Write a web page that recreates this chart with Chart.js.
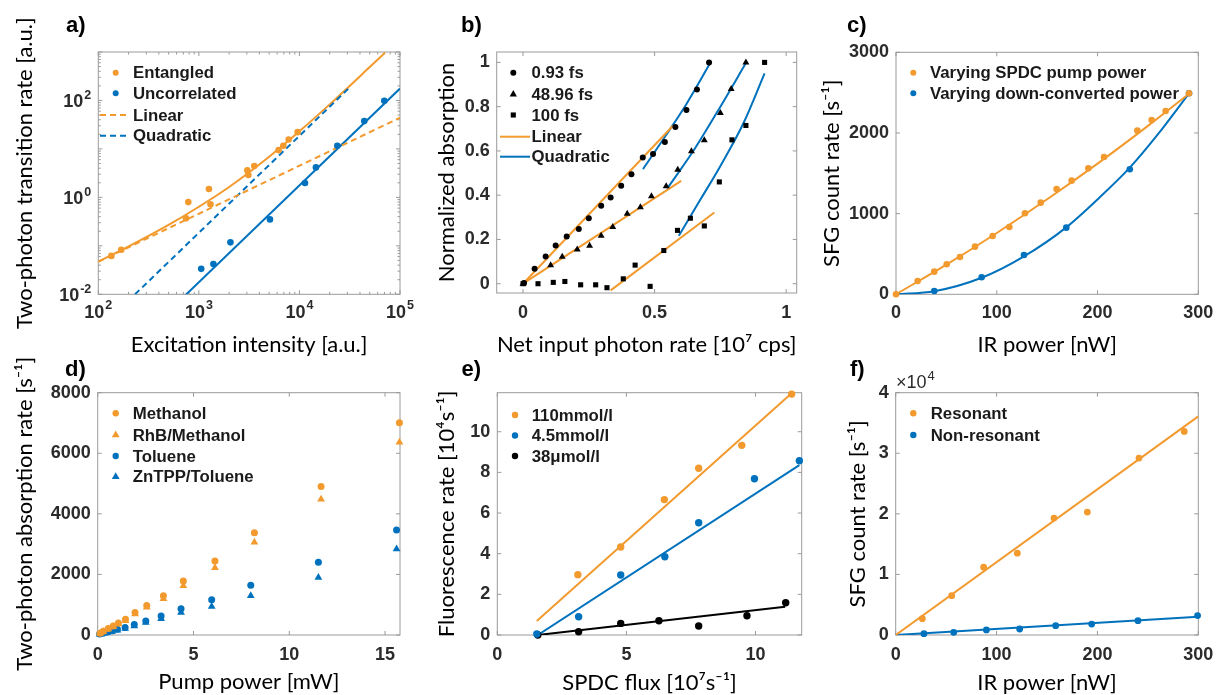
<!DOCTYPE html>
<html><head><meta charset="utf-8">
<script src="https://cdn.jsdelivr.net/npm/chart.js@4.4.1/dist/chart.umd.min.js"></script>
<style>
html,body{margin:0;padding:0;background:#fff;width:1217px;height:695px;overflow:hidden}
canvas{position:absolute;left:0;top:0}
</style></head><body>
<canvas id="pa" width="1217" height="695"></canvas>
<canvas id="pb" width="1217" height="695"></canvas>
<canvas id="pc" width="1217" height="695"></canvas>
<canvas id="pd" width="1217" height="695"></canvas>
<canvas id="pe" width="1217" height="695"></canvas>
<canvas id="pf" width="1217" height="695"></canvas>
<script>
const ORANGE = '#F29A2E', BLUE = '#0072BD', BLACK = '#000000';

// ---------- Panel a (log-log) ----------
const aEntX = [135, 169, 745, 785, 1259, 1305, 3034, 3105, 3558, 6210, 6913, 7813, 9594];
const aEntY = [0.062, 0.083, 0.37, 0.80, 1.49, 0.72, 3.6, 2.89, 4.43, 9.46, 11.6, 15.7, 22.2];
const aUncX = [1055, 1395, 2060, 5093, 11350, 14590, 23800, 44150, 69800];
const aUncY = [0.0335, 0.042, 0.118, 0.351, 1.98, 4.16, 11.6, 37.5, 98.4];
const aEntFitX = [100, 200, 500, 1000, 2000, 5000, 10000, 20000, 50000, 71000];
const aEntFitY = [0.047, 0.097, 0.27, 0.64, 1.64, 6.9, 23.1, 83, 488, 970];
const aUncFitX = [716, 100000];
const aUncFitY = [0.0091, 176];
const aLinX = [100, 100000];
const aLinY = [0.047, 44];
const aQuadX = [232, 31600];
const aQuadY = [0.01, 186];
const aXTicks = [100, 1000, 10000, 100000];
const aXTickExp = ['2', '3', '4', '5'];
const aYTicks = [0.01, 0.1, 1, 10, 100, 1000];
const aYTickExp = ['-2', '', '0', '', '2', ''];

// ---------- Panel b ----------
const b093X = [0.004, 0.044, 0.086, 0.124, 0.166, 0.212, 0.250, 0.297, 0.333, 0.373, 0.412, 0.455, 0.494, 0.539, 0.579, 0.621, 0.661, 0.707];
const b093Y = [0.003, 0.068, 0.123, 0.173, 0.213, 0.247, 0.296, 0.352, 0.390, 0.443, 0.495, 0.570, 0.586, 0.640, 0.708, 0.785, 0.877, 1.0];
const b4896X = [0, 0.105, 0.149, 0.206, 0.253, 0.297, 0.341, 0.396, 0.446, 0.488, 0.544, 0.588, 0.640, 0.689, 0.750, 0.791, 0.847];
const b4896Y = [0, 0.083, 0.122, 0.154, 0.172, 0.217, 0.256, 0.316, 0.345, 0.395, 0.440, 0.515, 0.598, 0.648, 0.771, 0.880, 1.0];
const b100X = [0, 0.057, 0.115, 0.159, 0.219, 0.276, 0.319, 0.381, 0.426, 0.483, 0.535, 0.587, 0.636, 0.689, 0.746, 0.794, 0.847, 0.918];
const b100Y = [0, 0.0, 0.006, 0.010, -0.005, -0.005, -0.018, 0.022, 0.084, -0.012, 0.150, 0.241, 0.296, 0.261, 0.460, 0.650, 0.715, 1.0];
const bLin093X = [0, 0.570], bLin093Y = [0, 0.714];
const bLin4896X = [0, 0.601], bLin4896Y = [0, 0.465];
const bLin100X = [0.333, 0.727], bLin100Y = [-0.03, 0.322];
const bQuad093X = [0.456, 0.54, 0.62, 0.708], bQuad093Y = [0.518, 0.665, 0.81, 0.99];
const bQuad4896X = [0.548, 0.65, 0.75, 0.847], bQuad4896Y = [0.43, 0.605, 0.80, 0.997];
const bQuad100X = [0.592, 0.674, 0.749, 0.838, 0.918], bQuad100Y = [0.217, 0.38, 0.53, 0.726, 0.95];
const bXTicks = [0, 0.5, 1];
const bYTicks = [0, 0.2, 0.4, 0.6, 0.8, 1];

// ---------- Panel c ----------
const cPumpX = [0, 21.5, 38, 50.3, 63.5, 78.4, 95.9, 112.5, 128, 143.6, 159.4, 174.3, 190.9, 206.4, 239.5, 253.7, 267.6, 290.8];
const cPumpY = [0, 165, 281, 372, 463, 591, 723, 835, 1004, 1136, 1306, 1409, 1562, 1702, 2029, 2161, 2273, 2492];
const cDownX = [38, 85, 127, 169, 232, 290.8];
const cDownY = [41, 211, 488, 826, 1550, 2492];
const cPumpFitX = [0, 50, 100, 150, 200, 250, 290.8];
const cPumpFitY = [0, 367, 760, 1178, 1620, 2088, 2487];
const cDownFitX = [0, 38, 85, 127, 169, 202, 232, 260, 290.8];
const cDownFitY = [0, 38, 205, 470, 830, 1200, 1570, 1985, 2492];
const cXTicks = [0, 100, 200, 300];
const cYTicks = [0, 1000, 2000, 3000];

// ---------- Panel d ----------
const dMethX = [0.12, 0.29, 0.55, 0.81, 1.08, 1.45, 1.95, 2.56, 3.43, 4.47, 6.12, 8.18, 11.66, 15.75];
const dMethY = [55, 125, 215, 300, 395, 520, 740, 975, 1300, 1780, 2440, 3380, 4900, 7010];
const dRhBY = [50, 110, 195, 275, 360, 470, 690, 920, 1200, 1630, 2220, 3060, 4480, 6360];
const dTolX = [0.1, 0.27, 0.5, 0.76, 1.03, 1.43, 1.91, 2.51, 3.31, 4.35, 5.95, 7.99, 11.52, 15.6];
const dTolY = [30, 60, 100, 140, 187, 245, 350, 460, 625, 870, 1160, 1640, 2400, 3470];
const dZnY = [25, 50, 85, 120, 160, 215, 300, 410, 535, 740, 940, 1300, 1900, 2840];
const dXTicks = [0, 5, 10, 15];
const dYTicks = [0, 2000, 4000, 6000, 8000];

// ---------- Panel e ----------
const e110X = [3.12, 4.78, 6.47, 7.80, 9.47, 11.40];
const e110Y = [2.97, 4.33, 6.66, 8.20, 9.33, 11.85];
const e45X = [1.53, 3.15, 4.78, 6.49, 7.80, 9.96, 11.70];
const e45Y = [0.05, 0.90, 2.95, 3.85, 5.52, 7.69, 8.57];
const e38X = [1.57, 3.15, 4.78, 6.26, 7.80, 9.67, 11.17];
const e38Y = [0, 0.16, 0.57, 0.70, 0.44, 0.95, 1.59];
const e110FitX = [1.53, 11.40], e110FitY = [0.69, 11.89];
const e45FitX = [1.57, 11.70], e45FitY = [0, 8.36];
const e38FitX = [1.57, 11.15], e38FitY = [0, 1.39];
const eXTicks = [0, 5, 10];
const eYTicks = [0, 2, 4, 6, 8, 10];

// ---------- Panel f (x10^4) ----------
const fResX = [26.4, 55.5, 87.2, 120.6, 156.9, 190, 241.2, 286.1];
const fResY = [0.27, 0.65, 1.12, 1.35, 1.93, 2.03, 2.92, 3.36];
const fNonX = [28, 57.5, 89.9, 122.9, 158.6, 194.3, 240.2, 299.3];
const fNonY = [0.022, 0.044, 0.083, 0.099, 0.154, 0.18, 0.237, 0.32];
const fResFitX = [0, 300], fResFitY = [0, 3.61];
const fNonFitX = [0, 300], fNonFitY = [0, 0.30];
const fXTicks = [0, 100, 200, 300];
const fYTicks = [0, 1, 2, 3, 4];

// ---------- helpers ----------
const W = 1217, H = 695;
const SANS = '"Liberation Sans", Arial, "DejaVu Sans", sans-serif';
const TICK_FONT = {family: SANS, size: 18, weight: 'bold'};
const TITLE_FONT = {family: 'Lato, "Open Sans", "DejaVu Sans", sans-serif', size: 22, weight: 'normal'};
const TICK_COLOR = '#2b2b2b';
const LEG_FONT = 'bold 16.8px ' + SANS;

function pts(xs, ys) { return xs.map((x, i) => ({x: x, y: ys[i]})); }
function scat(label, xs, ys, color, style, r) {
  return {label, data: pts(xs, ys), showLine: false, pointStyle: style || 'circle', pointRadius: r,
    backgroundColor: color, borderColor: color, borderWidth: 0, clip: false};
}
function line(label, xs, ys, color, dash, smooth) {
  const d = {label, data: pts(xs, ys), showLine: true, pointRadius: 0, borderColor: color,
    backgroundColor: color, borderWidth: 2, borderDash: dash || [], fill: false};
  if (smooth) d.cubicInterpolationMode = 'monotone';
  return d;
}
function drawMarker(ctx, style, x, y, r, color) {
  ctx.fillStyle = color; ctx.beginPath();
  if (style === 'triangle') {
    const t = r * 1.4;
    ctx.moveTo(x, y - t); ctx.lineTo(x + t * 0.866, y + t * 0.5); ctx.lineTo(x - t * 0.866, y + t * 0.5); ctx.closePath();
  } else if (style === 'rect') {
    const s = r * 0.85; ctx.rect(x - s, y - s, 2 * s, 2 * s);
  } else { ctx.arc(x, y, r, 0, Math.PI * 2); }
  ctx.fill();
}
// base text with raised exponent; align: 'center' | 'right' | 'left'
function drawPow(ctx, base, exp, x, y, align, baseFont, expFont, color) {
  ctx.save();
  ctx.fillStyle = color; ctx.textBaseline = 'middle'; ctx.textAlign = 'left';
  ctx.font = baseFont; const wb = ctx.measureText(base).width;
  ctx.font = expFont; const we = ctx.measureText(exp).width;
  const tot = wb + we + 1;
  let x0 = align === 'center' ? x - tot / 2 : (align === 'right' ? x - tot : x);
  ctx.font = baseFont; ctx.fillText(base, x0, y);
  ctx.font = expFont; ctx.fillText(exp, x0 + wb + 1, y - 7);
  ctx.restore();
}

function panel(id, c) {
  const titleLine = TITLE_FONT.size * 1.2;
  const L = c.yTitleX - titleLine / 2;
  const yW = c.left - L;
  const scaleBottom = c.xTitleY + titleLine / 2;
  const xH = scaleBottom - c.bottom;
  const padB = H - scaleBottom;
  const xPad = c.xLabelY - c.bottom - TICK_FONT.size * 1.2 / 2;

  const boxPlugin = {
    id: 'mbox' + id,
    beforeDatasetsDraw(chart) {
      const ctx = chart.ctx, a = chart.chartArea, xs = chart.scales.x, ys = chart.scales.y;
      ctx.save();
      ctx.strokeStyle = '#9a9a9a'; ctx.lineWidth = 1;
      ctx.strokeRect(a.left, a.top, a.right - a.left, a.bottom - a.top);
      const tk = (px, horiz, len) => {
        ctx.beginPath();
        if (horiz) { ctx.moveTo(px, a.bottom); ctx.lineTo(px, a.bottom - len); ctx.moveTo(px, a.top); ctx.lineTo(px, a.top + len); }
        else { ctx.moveTo(a.left, px); ctx.lineTo(a.left + len, px); ctx.moveTo(a.right, px); ctx.lineTo(a.right - len, px); }
        ctx.stroke();
      };
      c.xTicks.forEach(v => tk(xs.getPixelForValue(v), true, 4));
      c.yTicks.forEach(v => tk(ys.getPixelForValue(v), false, 4));
      (c.xMinor || []).forEach(v => tk(xs.getPixelForValue(v), true, 2.5));
      (c.yMinor || []).forEach(v => tk(ys.getPixelForValue(v), false, 2.5));
      ctx.restore();
    },
    afterDraw(chart) {
      const ctx = chart.ctx, a = chart.chartArea;
      ctx.save();
      // power-of-ten tick labels (log axes)
      const bf = 'bold 18px ' + SANS, ef = 'bold 12.5px ' + SANS;
      if (c.xTickExp) c.xTicks.forEach((v, i) => {
        if (c.xTickExp[i] !== '') drawPow(ctx, '10', c.xTickExp[i], chart.scales.x.getPixelForValue(v), c.xLabelY, 'center', bf, ef, TICK_COLOR);
      });
      if (c.yTickExp) c.yTicks.forEach((v, i) => {
        if (c.yTickExp[i] !== '') drawPow(ctx, '10', c.yTickExp[i], a.left - 7, chart.scales.y.getPixelForValue(v) + 2, 'right', bf, ef, TICK_COLOR);
      });
      // legend
      const lg = c.legend;
      ctx.font = LEG_FONT; ctx.textBaseline = 'middle'; ctx.textAlign = 'left';
      lg.items.forEach((idx, i) => {
        const ds = chart.data.datasets[idx], y = lg.rows[i];
        if (ds.showLine) {
          ctx.strokeStyle = ds.borderColor; ctx.lineWidth = 2; ctx.setLineDash(ds.borderDash || []);
          ctx.beginPath(); ctx.moveTo(lg.lineX[0], y); ctx.lineTo(lg.lineX[1], y); ctx.stroke(); ctx.setLineDash([]);
        } else {
          drawMarker(ctx, ds.pointStyle, lg.markerX, y, lg.r, ds.backgroundColor);
        }
        ctx.fillStyle = '#1a1a1a';
        ctx.font = LEG_FONT; ctx.textBaseline = 'middle'; ctx.textAlign = 'left';
        ctx.fillText(ds.label, lg.textX, y + 1);
      });
      // extra texts (panel label etc.)
      c.texts.forEach(t => {
        if (t.exp) { drawPow(ctx, t.text, t.exp, t.x, t.y, 'left', t.font, t.expFont, t.color || '#000'); return; }
        ctx.font = t.font; ctx.fillStyle = t.color || '#000'; ctx.textAlign = 'left'; ctx.textBaseline = 'middle';
        ctx.fillText(t.text, t.x, t.y);
      });
      ctx.restore();
    }
  };

  const tickCb = (hide) => function (v) {
    if (hide) return '';
    return String(Math.round(v * 1000) / 1000);
  };

  return new Chart(document.getElementById(id), {
    type: 'scatter',
    data: {datasets: c.datasets},
    options: {
      responsive: false, animation: false, devicePixelRatio: 1,
      layout: {padding: {left: L, right: W - c.right, top: c.top, bottom: padB}},
      plugins: {legend: {display: false}, tooltip: {enabled: false}},
      scales: {
        x: {
          type: c.xType || 'linear', position: 'bottom', min: c.xMin, max: c.xMax,
          afterBuildTicks: s => { s.ticks = c.xTicks.map(v => ({value: v})); },
          afterFit: s => { s.height = xH; s.paddingLeft = 0; s.paddingRight = 0; },
          grid: {display: false, drawTicks: false}, border: {display: false},
          ticks: {autoSkip: false, maxRotation: 0, minRotation: 0, padding: xPad, font: TICK_FONT, color: TICK_COLOR,
            callback: tickCb(!!c.xTickExp)},
          title: {display: true, text: c.xTitle, font: TITLE_FONT, color: '#000', padding: 0}
        },
        y: {
          type: c.yType || 'linear', position: 'left', min: c.yMin, max: c.yMax,
          afterBuildTicks: s => { s.ticks = c.yTicks.map(v => ({value: v})); },
          afterFit: s => { s.width = yW; s.paddingTop = 0; s.paddingBottom = 0; },
          grid: {display: false, drawTicks: false}, border: {display: false},
          ticks: {autoSkip: false, padding: 7, font: TICK_FONT, color: TICK_COLOR,
            callback: tickCb(!!c.yTickExp)},
          title: {display: true, text: c.yTitle, font: TITLE_FONT, color: '#000', padding: 0}
        }
      }
    },
    plugins: [boxPlugin]
  });
}

function logMinor(lo, hi) {
  const out = [];
  for (let e = lo; e < hi; e++) for (let m = 2; m <= 9; m++) out.push(m * Math.pow(10, e));
  return out;
}
const PANEL_FONT = 'bold 22px ' + SANS;

// Panel a
panel('pa', {
  left: 98.3, right: 400, top: 52, bottom: 294.3, yTitleX: 25, xTitleY: 345, xLabelY: 313,
  xType: 'logarithmic', yType: 'logarithmic', xMin: 100, xMax: 100000, yMin: 0.01, yMax: 1000,
  xTicks: aXTicks, xTickExp: aXTickExp, yTicks: aYTicks, yTickExp: aYTickExp,
  xMinor: logMinor(2, 5), yMinor: logMinor(-2, 3),
  xTitle: 'Excitation intensity [a.u.]', yTitle: 'Two-photon transition rate [a.u.]',
  datasets: [
    scat('Entangled', aEntX, aEntY, ORANGE, 'circle', 3.3),
    scat('Uncorrelated', aUncX, aUncY, BLUE, 'circle', 3.3),
    line('Linear', aLinX, aLinY, ORANGE, [6, 4]),
    line('Quadratic', aQuadX, aQuadY, BLUE, [6, 4]),
    line('_entfit', aEntFitX, aEntFitY, ORANGE, null, true),
    line('_uncfit', aUncFitX, aUncFitY, BLUE)
  ],
  legend: {items: [0, 1, 2, 3], rows: [72.7, 93.3, 115, 135.7], markerX: 115.7, lineX: [100, 130], textX: 133, r: 3},
  texts: [{text: 'a)', x: 66, y: 26, font: PANEL_FONT}]
});

// Panel b
panel('pb', {
  left: 496.7, right: 796.7, top: 52, bottom: 293, yTitleX: 446.7, xTitleY: 345, xLabelY: 313,
  xMin: -0.1, xMax: 1.04, yMin: -0.042, yMax: 1.047,
  xTicks: bXTicks, yTicks: bYTicks,
  xTitle: 'Net input photon rate [10⁷ cps]', yTitle: 'Normalized absorption',
  datasets: [
    scat('0.93 fs', b093X, b093Y, BLACK, 'circle', 3),
    scat('48.96 fs', b4896X, b4896Y, BLACK, 'triangle', 4),
    scat('100 fs', b100X, b100Y, BLACK, 'rect', 3.6),
    line('Linear', bLin093X, bLin093Y, ORANGE),
    line('Quadratic', bQuad093X, bQuad093Y, BLUE, null, true),
    line('_l2', bLin4896X, bLin4896Y, ORANGE),
    line('_l3', bLin100X, bLin100Y, ORANGE),
    line('_q2', bQuad4896X, bQuad4896Y, BLUE, null, true),
    line('_q3', bQuad100X, bQuad100Y, BLUE, null, true)
  ],
  legend: {items: [0, 1, 2, 3, 4], rows: [72.7, 94.3, 115, 136.7, 156.7], markerX: 513.3, lineX: [500, 530], textX: 531.5, r: 3},
  texts: [{text: 'b)', x: 461, y: 26, font: PANEL_FONT}]
});

// Panel c
panel('pc', {
  left: 896, right: 1198.3, top: 52.3, bottom: 294.3, yTitleX: 831.7, xTitleY: 345, xLabelY: 313,
  xMin: 0, xMax: 300, yMin: 0, yMax: 3000,
  xTicks: cXTicks, yTicks: cYTicks,
  xTitle: 'IR power [nW]', yTitle: 'SFG count rate [s⁻¹]',
  datasets: [
    scat('Varying SPDC pump power', cPumpX, cPumpY, ORANGE, 'circle', 3.3),
    scat('Varying down-converted power', cDownX, cDownY, BLUE, 'circle', 3.3),
    line('_pf', cPumpFitX, cPumpFitY, ORANGE, null, true),
    line('_df', cDownFitX, cDownFitY, BLUE, null, true)
  ],
  legend: {items: [0, 1], rows: [72.7, 93.3], markerX: 913.3, lineX: [0, 0], textX: 930, r: 3},
  texts: [{text: 'c)', x: 847, y: 26, font: PANEL_FONT}]
});

// Panel d
panel('pd', {
  left: 97.7, right: 400, top: 392.7, bottom: 635, yTitleX: 25, xTitleY: 682, xLabelY: 655,
  xMin: 0, xMax: 15.78, yMin: 0, yMax: 8000,
  xTicks: dXTicks, yTicks: dYTicks,
  xTitle: 'Pump power [mW]', yTitle: 'Two-photon absorption rate [s⁻¹]',
  datasets: [
    scat('Methanol', dMethX, dMethY, ORANGE, 'circle', 3.5),
    scat('RhB/Methanol', dMethX, dRhBY, ORANGE, 'triangle', 4.5),
    scat('Toluene', dTolX, dTolY, BLUE, 'circle', 3.5),
    scat('ZnTPP/Toluene', dTolX, dZnY, BLUE, 'triangle', 4.5)
  ],
  legend: {items: [0, 1, 2, 3], rows: [413.3, 435, 456, 476.7], markerX: 115.7, lineX: [0, 0], textX: 132.7, r: 3.2},
  texts: [{text: 'd)', x: 65, y: 369.5, font: PANEL_FONT}]
});

// Panel e
panel('pe', {
  left: 497.3, right: 801.7, top: 392.7, bottom: 635, yTitleX: 446.7, xTitleY: 683, xLabelY: 655,
  xMin: 0, xMax: 11.79, yMin: 0, yMax: 11.92,
  xTicks: eXTicks, yTicks: eYTicks,
  xTitle: 'SPDC flux [10⁷s⁻¹]', yTitle: 'Fluorescence rate [10⁴s⁻¹]',
  datasets: [
    scat('110mmol/l', e110X, e110Y, ORANGE, 'circle', 3.7),
    scat('4.5mmol/l', e45X, e45Y, BLUE, 'circle', 3.7),
    scat('38μmol/l', e38X, e38Y, BLACK, 'circle', 3.7),
    line('_f1', e110FitX, e110FitY, ORANGE),
    line('_f2', e45FitX, e45FitY, BLUE),
    line('_f3', e38FitX, e38FitY, BLACK)
  ],
  legend: {items: [0, 1, 2], rows: [415, 435.5, 456], markerX: 515, lineX: [0, 0], textX: 531.7, r: 3.2},
  texts: [{text: 'e)', x: 461.5, y: 370, font: PANEL_FONT}]
});

// Panel f
panel('pf', {
  left: 895.7, right: 1198.3, top: 392.7, bottom: 635, yTitleX: 858.3, xTitleY: 683, xLabelY: 655,
  xMin: 0, xMax: 300, yMin: 0, yMax: 4,
  xTicks: fXTicks, yTicks: fYTicks,
  xTitle: 'IR power [nW]', yTitle: 'SFG count rate [s⁻¹]',
  datasets: [
    scat('Resonant', fResX, fResY, ORANGE, 'circle', 3.4),
    scat('Non-resonant', fNonX, fNonY, BLUE, 'circle', 3.4),
    line('_r', fResFitX, fResFitY, ORANGE),
    line('_n', fNonFitX, fNonFitY, BLUE)
  ],
  legend: {items: [0, 1], rows: [413.3, 435], markerX: 913.3, lineX: [0, 0], textX: 930.7, r: 3.2},
  texts: [{text: 'f)', x: 850, y: 370, font: PANEL_FONT},
          {text: '×10', exp: '4', x: 896, y: 383, font: '18px ' + SANS, expFont: '13px ' + SANS, color: '#2b2b2b'}]
});
</script>
</body></html>
